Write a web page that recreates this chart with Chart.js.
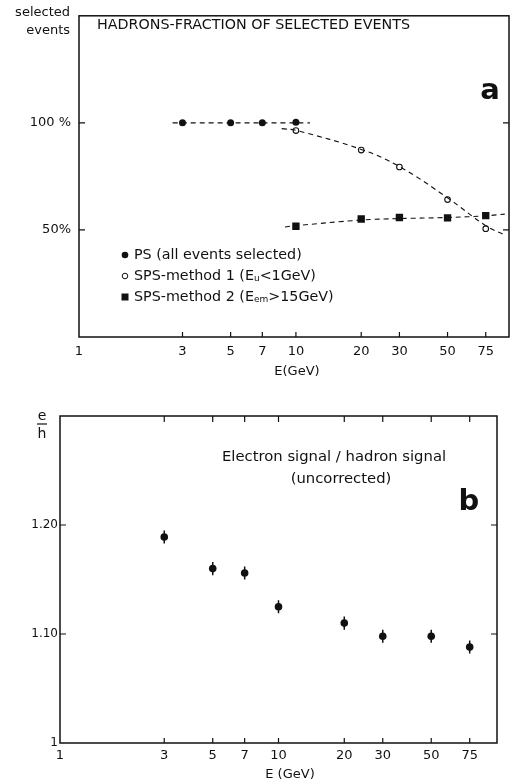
<!DOCTYPE html>
<html>
<head>
<meta charset="utf-8">
<script src="https://cdn.jsdelivr.net/npm/chart.js@4.4.1/dist/chart.umd.min.js"></script>
<style>
  html, body { margin: 0; padding: 0; background: #fff; }
  #wrap { position: relative; width: 517px; height: 784px; }
  canvas { position: absolute; left: 0; }
</style>
</head>
<body>
<div id="wrap">
  <canvas id="fraction" width="517" height="392" style="top:0"></canvas>
  <canvas id="ratio" width="517" height="392" style="top:392px"></canvas>
</div>
<script>
const E_TICKS = [1, 3, 5, 7, 10, 20, 30, 50, 75];

// panel a : hadron fraction of selected events (%)
const E_PS = [3, 5, 7, 10];
const PS = [100, 100, 100, 100.3];
const E_SPS1 = [10, 20, 30, 50, 75];
const SPS1 = [96.4, 87.3, 79.4, 64.2, 50.6];
const E_SPS2 = [10, 20, 30, 50, 75];
const SPS2 = [51.7, 55.1, 55.8, 55.6, 56.7];
// dashed curves as drawn in the figure
const FIT_PS_E = [2.7, 11.6];
const FIT_PS = [100, 100];
const FIT1_E = [8.6, 10, 20, 30, 50, 75, 91.8];
const FIT1 = [97.3, 96.5, 87.6, 79.6, 65.0, 52.0, 47.6];
const FIT2_E = [8.9, 10, 20, 30, 50, 75, 91.8];
const FIT2 = [51.4, 52.0, 54.6, 55.3, 55.8, 56.6, 57.4];
const Y_A_TICKS = [50, 100];
const Y_A_LABELS = { 50: '50%', 100: '100 %' };

// panel b : electron signal / hadron signal
const E_B = [3, 5, 7, 10, 20, 30, 50, 75];
const EH = [1.189, 1.160, 1.156, 1.125, 1.110, 1.098, 1.098, 1.088];
const EH_ERR = [0.006, 0.006, 0.006, 0.006, 0.006, 0.006, 0.006, 0.006];
const Y_B_TICKS = [1, 1.1, 1.2];
const Y_B_LABELS = { 1: '1', 1.1: '1.10', 1.2: '1.20' };

const INK = '#111';
const FONT = "'DejaVu Sans', Verdana, sans-serif";
Chart.defaults.font.family = FONT;
Chart.defaults.color = INK;

const pts = (xs, ys) => xs.map((x, i) => ({ x: x, y: ys[i] }));

function xAxis(max, height, pad) {
  return {
    type: 'logarithmic', min: 1, max: max,
    afterBuildTicks: s => { s.ticks = E_TICKS.map(v => ({ value: v })); },
    afterFit: s => { s.height = height; },
    grid: { display: false, drawTicks: false },
    border: { display: false },
    ticks: { callback: v => String(v), padding: pad, font: { size: 13 }, maxRotation: 0, autoSkip: false, color: INK }
  };
}

// box round the plot area and ticks pointing inward
function framePlugin(cfg) {
  return {
    id: 'frame',
    afterDraw(chart) {
      const { ctx, chartArea: a, scales } = chart;
      ctx.save();
      ctx.strokeStyle = INK;
      ctx.lineWidth = 1.5;
      ctx.strokeRect(a.left, a.top, a.right - a.left, a.bottom - a.top);
      ctx.lineWidth = 1.2;
      ctx.beginPath();
      E_TICKS.slice(1).forEach(v => {
        const x = scales.x.getPixelForValue(v);
        ctx.moveTo(x, a.bottom); ctx.lineTo(x, a.bottom - 5);
        if (cfg.topTicks) { ctx.moveTo(x, a.top); ctx.lineTo(x, a.top + 6); }
      });
      cfg.yTicks.forEach(v => {
        const y = scales.y.getPixelForValue(v);
        ctx.moveTo(a.left, y); ctx.lineTo(a.left + 6, y);
        ctx.moveTo(a.right, y); ctx.lineTo(a.right - 6, y);
      });
      ctx.stroke();
      ctx.restore();
    }
  };
}

function text(ctx, s, x, y, align, font) {
  ctx.font = font;
  ctx.textAlign = align;
  ctx.textBaseline = 'middle';
  ctx.fillText(s, x, y);
}

const annotA = {
  id: 'annotA',
  afterDraw(chart) {
    const ctx = chart.ctx;
    ctx.save();
    ctx.fillStyle = INK;
    text(ctx, 'selected', 70, 13, 'right', '13px ' + FONT);
    text(ctx, 'events', 70, 31, 'right', '13px ' + FONT);
    text(ctx, 'HADRONS-FRACTION OF SELECTED EVENTS', 97, 25, 'left', '14.3px ' + FONT);
    text(ctx, 'a', 490, 91, 'center', 'bold 29px ' + FONT);
    text(ctx, 'E(GeV)', 297, 372, 'center', '13px ' + FONT);

    // legend
    const rows = [255, 276, 297];
    ctx.fillStyle = INK; ctx.strokeStyle = INK; ctx.lineWidth = 1;
    ctx.beginPath(); ctx.arc(125, rows[0], 3.3, 0, Math.PI * 2); ctx.fill();
    ctx.beginPath(); ctx.arc(125, rows[1], 2.8, 0, Math.PI * 2); ctx.stroke();
    ctx.fillRect(121.5, rows[2] - 3.5, 7, 7);
    const f = '14.3px ' + FONT;
    const sub = '9px ' + FONT;
    text(ctx, 'PS (all events selected)', 134, rows[0], 'left', f);
    const line = (row, parts) => {
      let x = 134;
      parts.forEach(([s, dy, font]) => {
        ctx.font = font;
        ctx.fillText(s, x, row + dy);
        x += ctx.measureText(s).width;
      });
    };
    line(rows[1], [['SPS-method 1 (E', 0, f], ['u', 3, sub], ['<1GeV)', 0, f]]);
    line(rows[2], [['SPS-method 2 (E', 0, f], ['em', 3, sub], ['>15GeV)', 0, f]]);
    ctx.restore();
  }
};

const annotB = {
  id: 'annotB',
  afterDraw(chart) {
    const ctx = chart.ctx;
    ctx.save();
    ctx.fillStyle = INK; ctx.strokeStyle = INK;
    text(ctx, 'e', 42, 24, 'center', '14px ' + FONT);
    ctx.lineWidth = 1.2;
    ctx.beginPath(); ctx.moveTo(37, 32); ctx.lineTo(47, 32); ctx.stroke();
    text(ctx, 'h', 42, 42, 'center', '14px ' + FONT);
    text(ctx, 'Electron signal / hadron signal', 222, 65, 'left', '14.8px ' + FONT);
    text(ctx, '(uncorrected)', 341, 87, 'center', '14.8px ' + FONT);
    text(ctx, 'b', 469, 110, 'center', 'bold 29px ' + FONT);
    text(ctx, 'E (GeV)', 290, 383, 'center', '13px ' + FONT);
    ctx.restore();
  }
};

const errorBars = {
  id: 'errorBars',
  beforeDatasetsDraw(chart) {
    const { ctx, scales } = chart;
    ctx.save();
    ctx.strokeStyle = INK;
    ctx.lineWidth = 1.5;
    ctx.beginPath();
    E_B.forEach((e, i) => {
      const x = scales.x.getPixelForValue(e);
      ctx.moveTo(x, scales.y.getPixelForValue(EH[i] - EH_ERR[i]));
      ctx.lineTo(x, scales.y.getPixelForValue(EH[i] + EH_ERR[i]));
    });
    ctx.stroke();
    ctx.restore();
  }
};

const dashed = (data) => ({
  type: 'line', data: data, borderColor: INK, borderWidth: 1.1, borderDash: [5, 4],
  pointRadius: 0, tension: 0.4, fill: false
});

new Chart(document.getElementById('fraction'), {
  type: 'scatter',
  data: {
    datasets: [
      dashed(pts(FIT_PS_E, FIT_PS)),
      dashed(pts(FIT1_E, FIT1)),
      dashed(pts(FIT2_E, FIT2)),
      { label: 'PS', data: pts(E_PS, PS), pointStyle: 'circle', pointRadius: 3.5, backgroundColor: INK, borderColor: INK, borderWidth: 0 },
      { label: 'SPS-method 1', data: pts(E_SPS1, SPS1), pointStyle: 'circle', pointRadius: 2.8, backgroundColor: '#fff', borderColor: INK, borderWidth: 1.1 },
      { label: 'SPS-method 2', data: pts(E_SPS2, SPS2), pointStyle: 'rect', pointRadius: 5.2, backgroundColor: INK, borderColor: INK, borderWidth: 0 }
    ]
  },
  options: {
    responsive: false,
    animation: false,
    events: [],
    layout: { padding: { left: 0, top: 8, right: 8, bottom: 10 } },
    scales: {
      x: xAxis(96, 45, 7),
      y: {
        min: 0, max: 150,
        afterBuildTicks: s => { s.ticks = Y_A_TICKS.map(v => ({ value: v })); },
        afterFit: s => { s.width = 79; },
        grid: { display: false, drawTicks: false },
        border: { display: false },
        ticks: { callback: v => Y_A_LABELS[v], padding: 8, font: { size: 13 }, color: INK }
      }
    },
    plugins: { legend: { display: false }, tooltip: { enabled: false } }
  },
  plugins: [framePlugin({ topTicks: false, yTicks: Y_A_TICKS }), annotA]
});

new Chart(document.getElementById('ratio'), {
  type: 'scatter',
  data: {
    datasets: [
      { label: 'e/h', data: pts(E_B, EH), pointStyle: 'circle', pointRadius: 3.8, backgroundColor: INK, borderColor: INK, borderWidth: 0 }
    ]
  },
  options: {
    responsive: false,
    animation: false,
    events: [],
    layout: { padding: { left: 0, top: 24, right: 20, bottom: 11 } },
    scales: {
      x: xAxis(100, 30, 5),
      y: {
        min: 1, max: 1.3,
        afterBuildTicks: s => { s.ticks = Y_B_TICKS.map(v => ({ value: v })); },
        afterFit: s => { s.width = 60; },
        grid: { display: false, drawTicks: false },
        border: { display: false },
        ticks: { callback: v => Y_B_LABELS[v], padding: 2, font: { size: 12 }, color: INK }
      }
    },
    plugins: { legend: { display: false }, tooltip: { enabled: false } }
  },
  plugins: [framePlugin({ topTicks: true, yTicks: [1.1, 1.2] }), errorBars, annotB]
});
</script>
</body>
</html>
